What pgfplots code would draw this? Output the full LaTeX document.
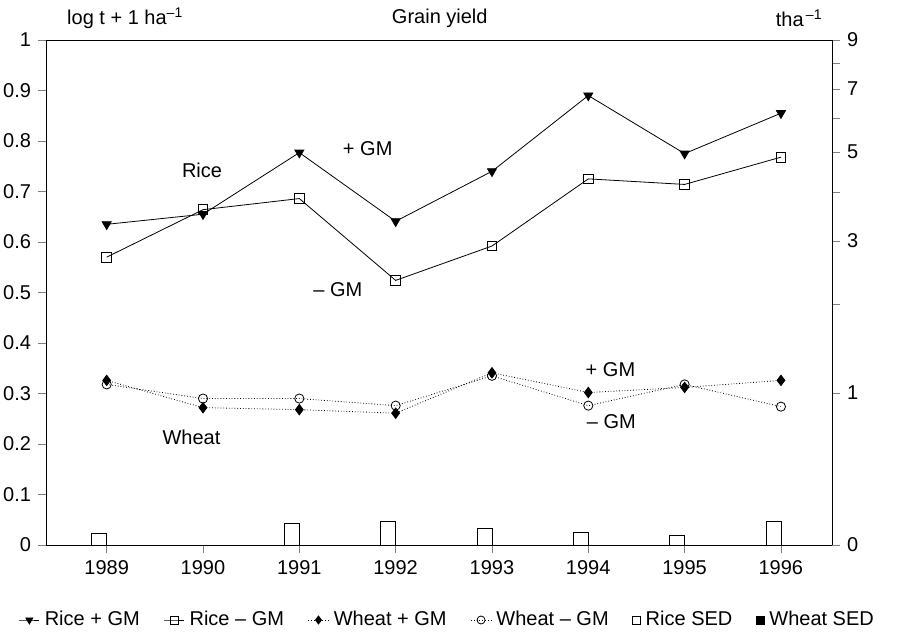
\documentclass[border=0pt]{standalone}
\usepackage{pgfplots}
\pgfplotsset{compat=1.18}
\usepackage{fontspec}
\setmainfont{Liberation Sans}
\begin{document}
\begin{tikzpicture}[font=\fontsize{10}{12}\selectfont]
\useasboundingbox (-23pt,-46.5pt) rectangle (426.5pt,272.5pt);
\begin{axis}[
  at={(0,0)}, anchor=south west,
  scale only axis, width=393pt, height=252.5pt,
  xmin=1988.37, xmax=1996.53, ymin=0, ymax=1,
  xtick={1989,...,1996},
  xticklabel style={/pgf/number format/1000 sep={}},
  ytick={0,0.1,...,1.01},
  yticklabels={0,0.1,0.2,0.3,0.4,0.5,0.6,0.7,0.8,0.9,1},
  tick align=outside, major tick length=4pt,
  axis y line*=left, axis x line*=bottom,
  /pgf/number format/assume math mode=true,
  legend columns=6,
  legend style={at={(0.512,-0.1485)}, anchor=center, draw=none, fill=none,
    inner sep=0pt,
    /tikz/every even column/.append style={column sep=10pt},
    /tikz/every odd column/.append style={column sep=0.5pt}},
  legend cell align=left,
  legend image code/.code={\draw[#1] (0pt,0pt) -- (5pt,0pt) -- (10pt,0pt); \path[#1,only marks,mark size=2pt] plot coordinates {(5pt,0pt)};},
  clip=false,
]
\addplot[black, thin, mark=triangle*, mark size=2.6pt, mark options={rotate=180, fill=black}]
  coordinates {(1989,0.635)(1990,0.655)(1991,0.777)(1992,0.641)(1993,0.740)(1994,0.890)(1995,0.775)(1996,0.855)};
\addlegendentry{Rice + GM}
\addplot[black, thin, mark=square, mark size=2.4pt]
  coordinates {(1989,0.570)(1990,0.664)(1991,0.686)(1992,0.524)(1993,0.592)(1994,0.725)(1995,0.714)(1996,0.768)};
\addlegendentry{Rice – GM}
\addplot[black, thin, densely dotted, mark=diamond*, mark size=2.6pt, mark options={solid, fill=black}]
  coordinates {(1989,0.326)(1990,0.272)(1991,0.268)(1992,0.261)(1993,0.341)(1994,0.302)(1995,0.312)(1996,0.326)};
\addlegendentry{Wheat + GM}
\addplot[black, thin, densely dotted, mark=o, mark size=2.3pt, mark options={solid}]
  coordinates {(1989,0.318)(1990,0.290)(1991,0.290)(1992,0.276)(1993,0.335)(1994,0.276)(1995,0.318)(1996,0.274)};
\addlegendentry{Wheat – GM}
\addplot[ybar, bar width=7.5pt, bar shift=-3.75pt, draw=black, fill=white, forget plot]
  coordinates {(1989,0.022)(1991,0.043)(1992,0.046)(1993,0.032)(1994,0.025)(1995,0.019)(1996,0.046)};
\addlegendimage{legend image code/.code={\path[black] plot[mark=square, mark size=2pt] coordinates {(5pt,0pt)};}}
\addlegendentry{Rice SED}
\addlegendimage{legend image code/.code={\path[black] plot[mark=square*, mark size=2pt] coordinates {(5pt,0pt)};}}
\addlegendentry{Wheat SED}
\draw (rel axis cs:0,1) -- (rel axis cs:1,1);
\node at (axis cs:1989.99,0.742) {Rice};
\node at (axis cs:1991.71,0.784) {+ GM};
\node at (axis cs:1991.40,0.506) {– GM};
\node at (axis cs:1994.23,0.347) {+ GM};
\node at (axis cs:1994.24,0.244) {– GM};
\node at (axis cs:1989.88,0.214) {Wheat};
\node[anchor=west] at (axis description cs:0.018,1.0436) {log t + 1 ha\textsuperscript{–1}};
\node at (axis description cs:0.501,1.0436) {Grain yield};
\node[anchor=east] at (axis description cs:0.997,1.0436) {tha\textsuperscript{\,–1}};
\end{axis}
\begin{axis}[
  at={(0,0)}, anchor=south west,
  scale only axis, width=393pt, height=252.5pt,
  xmin=1988.37, xmax=1996.53, ymin=0, ymax=1,
  axis x line=none, axis y line*=right,
  tick align=outside, major tick length=4pt, minor tick length=4pt,
  ytick={0,0.30103,0.60206,0.77815,0.90309,1},
  yticklabels={0,1,3,5,7,9},
  minor ytick={0.47712,0.69897,0.84510,0.95424},
  /pgf/number format/assume math mode=true,
]
\end{axis}
\end{tikzpicture}
\end{document}
